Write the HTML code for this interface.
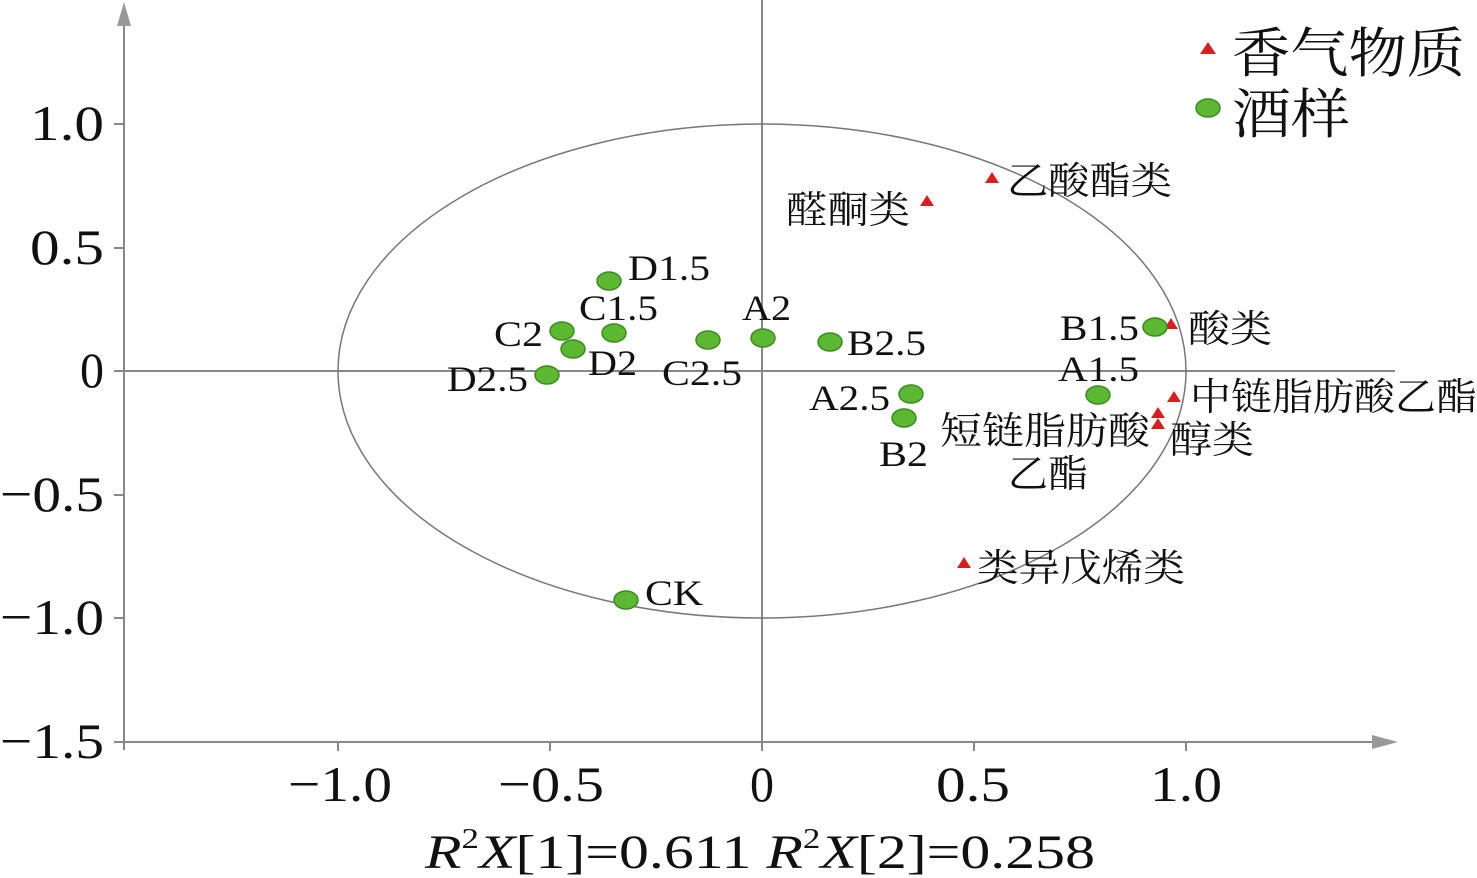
<!DOCTYPE html>
<html><head><meta charset="utf-8"><style>
html,body{margin:0;padding:0;background:#fff;}
svg{display:block;}
text{font-family:"Liberation Serif","Noto Serif CJK SC","Noto Sans CJK SC",serif;fill:#111;}
</style></head><body>
<svg width="1477" height="878" viewBox="0 0 1477 878" xmlns="http://www.w3.org/2000/svg">
<g stroke="#888" stroke-width="2" fill="none">
<line x1="124" y1="20" x2="124" y2="750"/>
<line x1="114" y1="742" x2="1380" y2="742"/>
<line x1="762" y1="0" x2="762" y2="742"/>
<line x1="124" y1="371" x2="1395" y2="371"/>
<line x1="114" y1="124" x2="124" y2="124"/>
<line x1="114" y1="248" x2="124" y2="248"/>
<line x1="114" y1="371" x2="124" y2="371"/>
<line x1="114" y1="495" x2="124" y2="495"/>
<line x1="114" y1="618" x2="124" y2="618"/>
<line x1="338" y1="742" x2="338" y2="751"/>
<line x1="550" y1="742" x2="550" y2="751"/>
<line x1="762" y1="742" x2="762" y2="751"/>
<line x1="974" y1="742" x2="974" y2="751"/>
<line x1="1186" y1="742" x2="1186" y2="751"/>
</g>
<polygon points="124,2 117,26 131,26" fill="#999"/>
<polygon points="1398,742 1372,735 1372,749" fill="#999"/>
<ellipse cx="762" cy="371" rx="424" ry="247" fill="none" stroke="#777" stroke-width="1.5"/>
<g font-size="50" lengthAdjust="spacingAndGlyphs">
<text x="30" y="140" textLength="74" lengthAdjust="spacingAndGlyphs">1.0</text>
<text x="30" y="264" textLength="74" lengthAdjust="spacingAndGlyphs">0.5</text>
<text x="80" y="387" textLength="24" lengthAdjust="spacingAndGlyphs">0</text>
<text x="0" y="511" textLength="104" lengthAdjust="spacingAndGlyphs">−0.5</text>
<text x="0" y="634" textLength="104" lengthAdjust="spacingAndGlyphs">−1.0</text>
<text x="0" y="758" textLength="104" lengthAdjust="spacingAndGlyphs">−1.5</text>
<text x="288" y="801" textLength="104" lengthAdjust="spacingAndGlyphs">−1.0</text>
<text x="498" y="801" textLength="106" lengthAdjust="spacingAndGlyphs">−0.5</text>
<text x="750" y="801" textLength="24" lengthAdjust="spacingAndGlyphs">0</text>
<text x="936" y="801" textLength="74" lengthAdjust="spacingAndGlyphs">0.5</text>
<text x="1150" y="801" textLength="72" lengthAdjust="spacingAndGlyphs">1.0</text>
</g>
<text x="425" y="868" font-size="48" textLength="670" lengthAdjust="spacingAndGlyphs"><tspan font-style="italic">R</tspan><tspan font-size="28" dy="-20">2</tspan><tspan dy="20" font-style="italic">X</tspan>[1]=0.611  <tspan font-style="italic">R</tspan><tspan font-size="28" dy="-20">2</tspan><tspan dy="20" font-style="italic">X</tspan>[2]=0.258</text>
<!-- legend -->
<polygon points="1208,42 1200,54 1216,54" fill="#d42020"/>
<text x="1232" y="72" font-size="54" textLength="233" lengthAdjust="spacingAndGlyphs">香气物质</text>
<ellipse cx="1208" cy="108" rx="12" ry="9" fill="#5cb832" stroke="#3d8a22" stroke-width="1.5"/>
<text x="1232" y="133" font-size="54" textLength="118" lengthAdjust="spacingAndGlyphs">酒样</text>
<g fill="#d42020">
<polygon points="992,172 985,183 999,183"/>
<polygon points="927,195 920,206 934,206"/>
<polygon points="1171,318 1164,329 1178,329"/>
<polygon points="1174,391 1167,402 1181,402"/>
<polygon points="1158,407 1151,418 1165,418"/>
<polygon points="1158,418 1151,429 1165,429"/>
<polygon points="964,557 957,568 971,568"/>
</g>
<g fill="#5cb832" stroke="#3d8a22" stroke-width="1.5">
<ellipse cx="609" cy="281" rx="12" ry="9"/>
<ellipse cx="562" cy="331" rx="12" ry="9"/>
<ellipse cx="614" cy="333" rx="12" ry="9"/>
<ellipse cx="573" cy="349" rx="12" ry="9"/>
<ellipse cx="547" cy="375" rx="12" ry="9"/>
<ellipse cx="708" cy="340" rx="12" ry="9"/>
<ellipse cx="763" cy="338" rx="12" ry="9"/>
<ellipse cx="830" cy="342" rx="12" ry="9"/>
<ellipse cx="911" cy="394" rx="12" ry="9"/>
<ellipse cx="904" cy="418" rx="12" ry="9"/>
<ellipse cx="1098" cy="395" rx="12" ry="9"/>
<ellipse cx="1155" cy="327" rx="12" ry="9"/>
<ellipse cx="626" cy="600" rx="12" ry="9"/>
</g>
<g font-size="36">
<text x="628" y="280" textLength="82" lengthAdjust="spacingAndGlyphs">D1.5</text>
<text x="579" y="320" textLength="79" lengthAdjust="spacingAndGlyphs">C1.5</text>
<text x="494" y="346" textLength="49" lengthAdjust="spacingAndGlyphs">C2</text>
<text x="588" y="375" textLength="49" lengthAdjust="spacingAndGlyphs">D2</text>
<text x="447" y="391" textLength="81" lengthAdjust="spacingAndGlyphs">D2.5</text>
<text x="662" y="385" textLength="80" lengthAdjust="spacingAndGlyphs">C2.5</text>
<text x="742" y="320" textLength="49" lengthAdjust="spacingAndGlyphs">A2</text>
<text x="847" y="355" textLength="79" lengthAdjust="spacingAndGlyphs">B2.5</text>
<text x="809" y="410" textLength="81" lengthAdjust="spacingAndGlyphs">A2.5</text>
<text x="879" y="466" textLength="49" lengthAdjust="spacingAndGlyphs">B2</text>
<text x="1058" y="381" textLength="81" lengthAdjust="spacingAndGlyphs">A1.5</text>
<text x="1060" y="340" textLength="79" lengthAdjust="spacingAndGlyphs">B1.5</text>
<text x="645" y="605" textLength="58" lengthAdjust="spacingAndGlyphs">CK</text>
</g>
<g font-size="38">
<text x="1007" y="194" textLength="165" lengthAdjust="spacingAndGlyphs">乙酸酯类</text>
<text x="786" y="223" textLength="124" lengthAdjust="spacingAndGlyphs">醛酮类</text>
<text x="1188" y="342" textLength="84" lengthAdjust="spacingAndGlyphs">酸类</text>
<text x="1190" y="410" textLength="287" lengthAdjust="spacingAndGlyphs">中链脂肪酸乙酯</text>
<text x="1170" y="453" textLength="84" lengthAdjust="spacingAndGlyphs">醇类</text>
<text x="940" y="444" textLength="210" lengthAdjust="spacingAndGlyphs">短链脂肪酸</text>
<text x="1008" y="487" textLength="80" lengthAdjust="spacingAndGlyphs">乙酯</text>
<text x="977" y="581" textLength="208" lengthAdjust="spacingAndGlyphs">类异戊烯类</text>
</g>
</svg>
</body></html>
